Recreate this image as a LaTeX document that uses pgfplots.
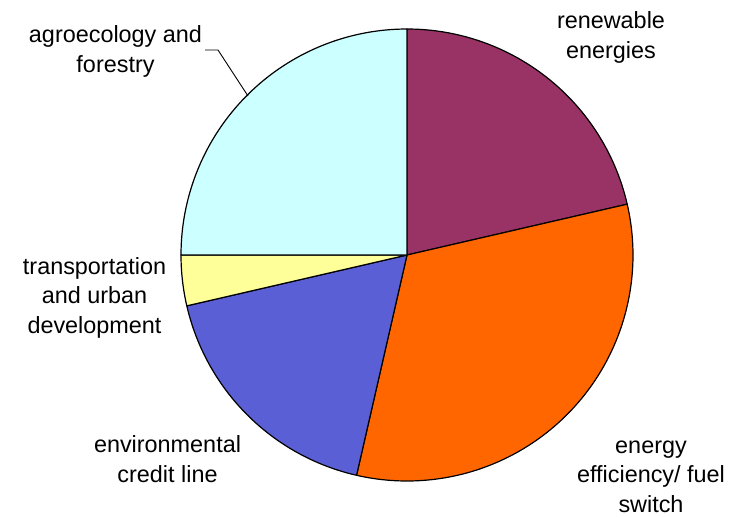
\documentclass[border=0pt]{standalone}
\usepackage{pgfplots}
\pgfplotsset{compat=1.18}
\usepackage{fontspec}
\setmainfont{Liberation Sans}

% slice colours (Excel palette)
\definecolor{plum}{HTML}{993366}
\definecolor{orng}{HTML}{FF6600}
\definecolor{blu}{HTML}{5B5FD6}
\definecolor{ylw}{HTML}{FFFF99}
\definecolor{cyn}{HTML}{CCFFFF}

% shares (%): renewable 21.4, efficiency 32.2, credit 17.8, transport 3.6, agro 25.0
% slice from #1 to #2 degrees, centre (407,255), radius 226 (pixel units)
\newcommand{\slice}[3]{%
  \addplot[fill=#3, draw=black, line width=1.2pt, line join=round, domain=#1:#2, samples=120]
    ({407+226*cos(x)},{255-226*sin(x)}) -- (axis cs:407,255) -- cycle;
}

\begin{document}
\begin{tikzpicture}
\useasboundingbox (0,0) rectangle (747pt,517pt);
\begin{axis}[
  scale only axis,
  width=747pt, height=517pt,
  xmin=0, xmax=747, ymin=0, ymax=517,
  y dir=reverse,
  hide axis,
  clip=false,
]
\slice{13.0}{90}{plum}
\slice{-102.9}{13.0}{orng}
\slice{-167.0}{-102.9}{blu}
\slice{180}{193.0}{ylw}
\slice{90}{180}{cyn}

\draw[black, line width=0.9pt] (axis cs:205,50) -- (axis cs:218,50) -- (axis cs:248,96);

% anchor=base sits on the last line's baseline
\tikzset{lbl/.style={align=center, anchor=base, inner sep=0pt,
  font=\fontsize{23.4}{29.5}\selectfont}}
\node[lbl] at (axis cs:611,58) {renewable\\energies};
\node[lbl] at (axis cs:115.5,72) {agroecology and\\forestry};
\node[lbl] at (axis cs:94.5,333) {transportation\\and urban\\development};
\node[lbl] at (axis cs:167.5,482) {environmental\\credit line};
\node[lbl] at (axis cs:651,512) {energy\\efficiency/ fuel\\switch};
\end{axis}
\end{tikzpicture}
\end{document}
